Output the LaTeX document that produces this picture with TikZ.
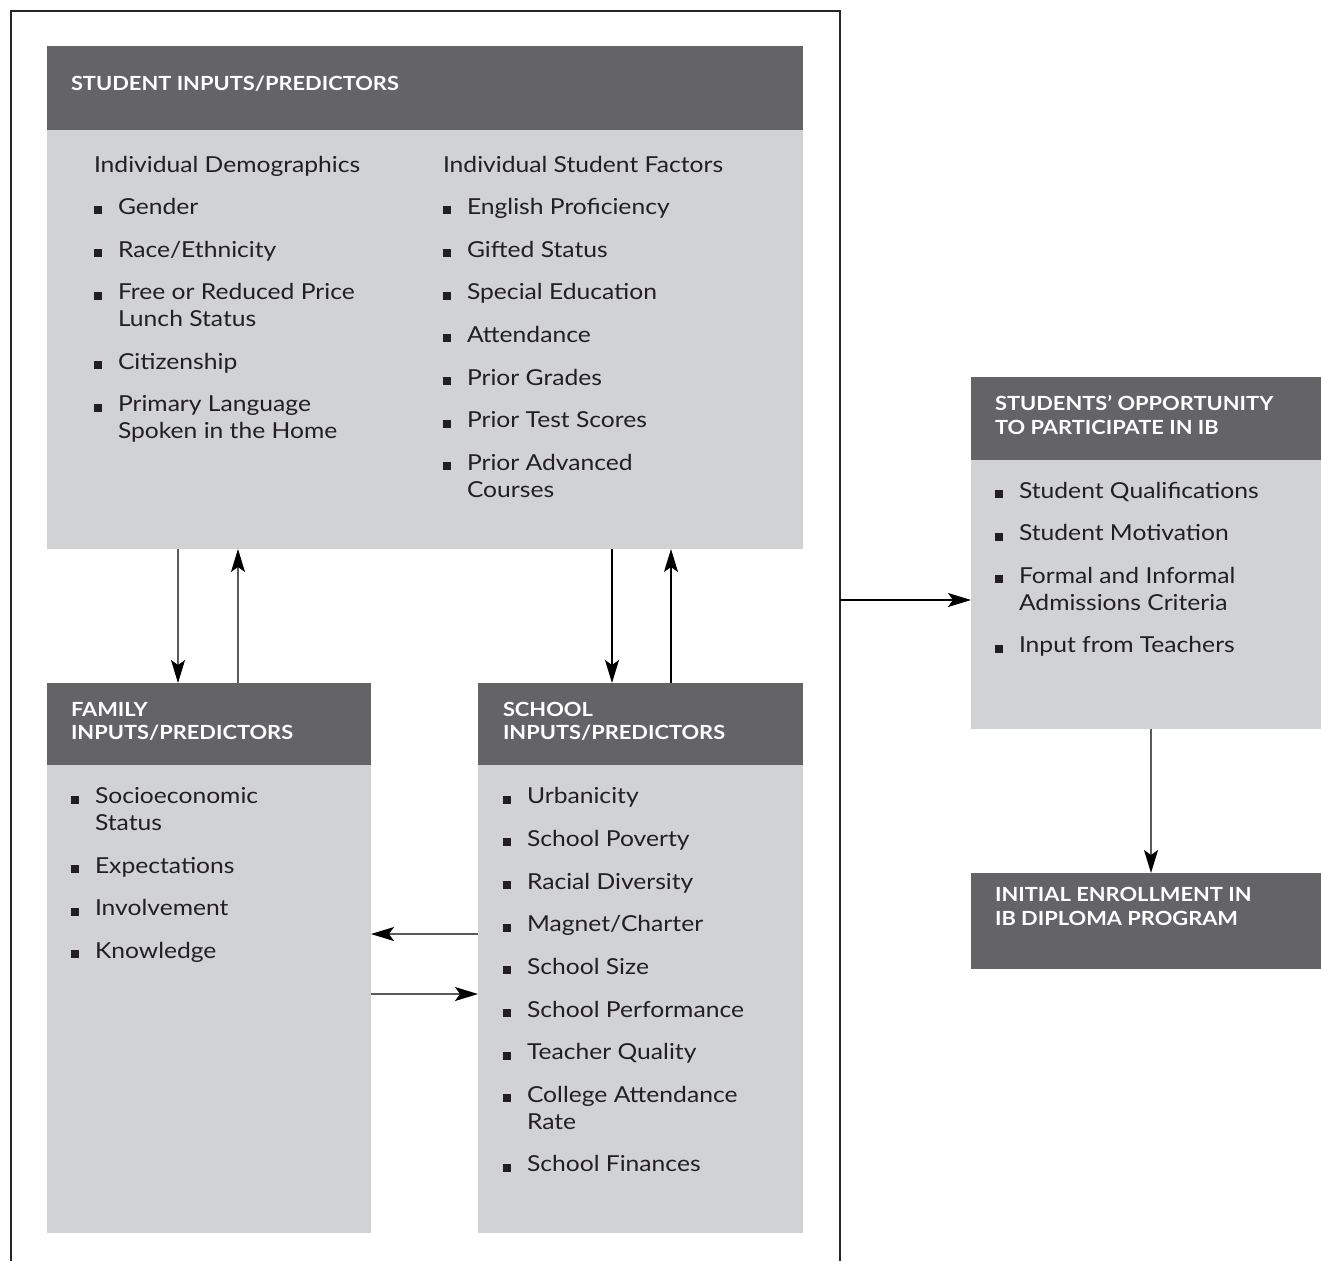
\documentclass[tikz,border=0pt]{standalone}
\usepackage{fontspec}
\setmainfont{Lato}[FakeStretch=1.12]
\usetikzlibrary{arrows.meta}
\definecolor{hd}{HTML}{646466}
\definecolor{bd}{HTML}{D1D2D4}
\definecolor{ink}{HTML}{231F20}
\definecolor{ln}{HTML}{5A5A5C}
\newcommand\bx{\llap{\rule{8pt}{8pt}\hspace{16pt}}}
\begin{document}
\begin{tikzpicture}[x=1pt,y=-1pt,
  hbox/.style={fill=hd,draw=none,anchor=north west,inner sep=0pt,outer sep=0pt},
  bbox/.style={fill=bd,draw=none,anchor=north west,inner sep=0pt,outer sep=0pt},
  txt/.style={anchor=base west,inner sep=0pt,outer sep=0pt,text=ink,font=\fontsize{22}{26.7}\selectfont},
  htxt/.style={anchor=base west,inner sep=0pt,outer sep=0pt,text=white,font=\fontsize{19.5}{23.3}\selectfont\bfseries},
  arr/.style={-{Stealth[length=23pt,width=14pt,inset=5pt,color=black]},line width=1.6pt},
  garr/.style={arr,draw=ln},
  karr/.style={arr,draw=black}]
\useasboundingbox (0,0) rectangle (1321,1261);
% outer frame
\draw[line width=1.3pt,draw=black!85] (11,1261) -- (11,11) -- (840,11) -- (840,1261);
\coordinate (fr) at (840,600);
% boxes
\node[hbox,minimum width=756pt,minimum height=84pt] (shead) at (47,46) {};
\node[bbox,minimum width=756pt,minimum height=419pt] (sbody) at (47,130) {};
\node[hbox,minimum width=324pt,minimum height=82pt] (fhead) at (47,683) {};
\node[bbox,minimum width=324pt,minimum height=468pt] (fbody) at (47,765) {};
\node[hbox,minimum width=325pt,minimum height=82pt] (chead) at (478,683) {};
\node[bbox,minimum width=325pt,minimum height=468pt] (cbody) at (478,765) {};
\node[hbox,minimum width=350pt,minimum height=83pt] (ohead) at (971,377) {};
\node[bbox,minimum width=350pt,minimum height=269pt] (obody) at (971,460) {};
\node[hbox,minimum width=350pt,minimum height=96pt] (ihead) at (971,873) {};
% header texts
\node[htxt] (t1) at (71,90.7) {STUDENT INPUTS/PREDICTORS};
\node[htxt] (t2) at (71,716.7) {FAMILY};
\node[htxt] (t3) at (71,739.7) {INPUTS/PREDICTORS};
\node[htxt] (t4) at (503,716.7) {SCHOOL};
\node[htxt] (t5) at (503,739.7) {INPUTS/PREDICTORS};
\node[htxt] (t6) at (995,410.7) {STUDENTS’ OPPORTUNITY};
\node[htxt] (t7) at (995,434) {TO PARTICIPATE IN IB};
\node[htxt] (t8) at (995,901.7) {INITIAL ENROLLMENT IN};
\node[htxt] (t9) at (995,925) {IB DIPLOMA PROGRAM};
% student box lists
\node[txt] (dh) at (94,172) {Individual Demographics};
\foreach \y/\t [count=\i] in {214.3/{\bx Gender}, 257/{\bx Race/Ethnicity},
  299.7/{\bx Free or Reduced Price}, 326.3/{Lunch Status}, 369/{\bx Citizenship},
  411.7/{\bx Primary Language}, 438.3/{Spoken in the Home}}
  \node[txt] (L\i) at (118,\y) {\t};
\node[txt] (fh) at (443,172) {Individual Student Factors};
\foreach \y/\t [count=\i] in {214.3/{\bx English Proficiency}, 257/{\bx Gifted Status},
  299.7/{\bx Special Education}, 342.3/{\bx Attendance}, 385/{\bx Prior Grades},
  427.7/{\bx Prior Test Scores}, 470.3/{\bx Prior Advanced}, 497/{Courses}}
  \node[txt] (R\i) at (467,\y) {\t};
% family list
\foreach \y/\t [count=\i] in {803.7/{\bx Socioeconomic}, 830.3/{Status},
  873/{\bx Expectations}, 915.7/{\bx Involvement}, 958.3/{\bx Knowledge}}
  \node[txt] (F\i) at (95,\y) {\t};
% school list
\foreach \y/\t [count=\i] in {803.7/{\bx Urbanicity}, 846.3/{\bx School Poverty},
  889/{\bx Racial Diversity}, 931.7/{\bx Magnet/Charter}, 974.3/{\bx School Size},
  1017/{\bx School Performance}, 1059.7/{\bx Teacher Quality},
  1102.3/{\bx College Attendance}, 1129/{Rate}, 1171.7/{\bx School Finances}}
  \node[txt] (C\i) at (527,\y) {\t};
% opportunity list
\foreach \y/\t [count=\i] in {498/{\bx Student Qualifications}, 540.7/{\bx Student Motivation},
  583.3/{\bx Formal and Informal}, 610/{Admissions Criteria}, 652.7/{\bx Input from Teachers}}
  \node[txt] (O\i) at (1019,\y) {\t};
% connectors
\draw[garr] ([xshift=131pt]sbody.south west) -- ([xshift=131pt]fhead.north west);
\draw[garr] ([xshift=191pt]fhead.north west) -- ([xshift=191pt]sbody.south west);
\draw[karr] ([xshift=565pt]sbody.south west) -- ([xshift=134pt]chead.north west);
\draw[karr] ([xshift=193pt]chead.north west) -- ([xshift=624pt]sbody.south west);
\draw[garr] ([yshift=-169pt]cbody.north west) -- ([yshift=-169pt]fbody.north east);
\draw[garr] ([yshift=-229pt]fbody.north east) -- ([yshift=-229pt]cbody.north west);
\draw[karr] (fr) -- (fr -| obody.west);
\draw[garr] ([xshift=180pt]obody.south west) -- ([xshift=180pt]ihead.north west);
\end{tikzpicture}
\end{document}
